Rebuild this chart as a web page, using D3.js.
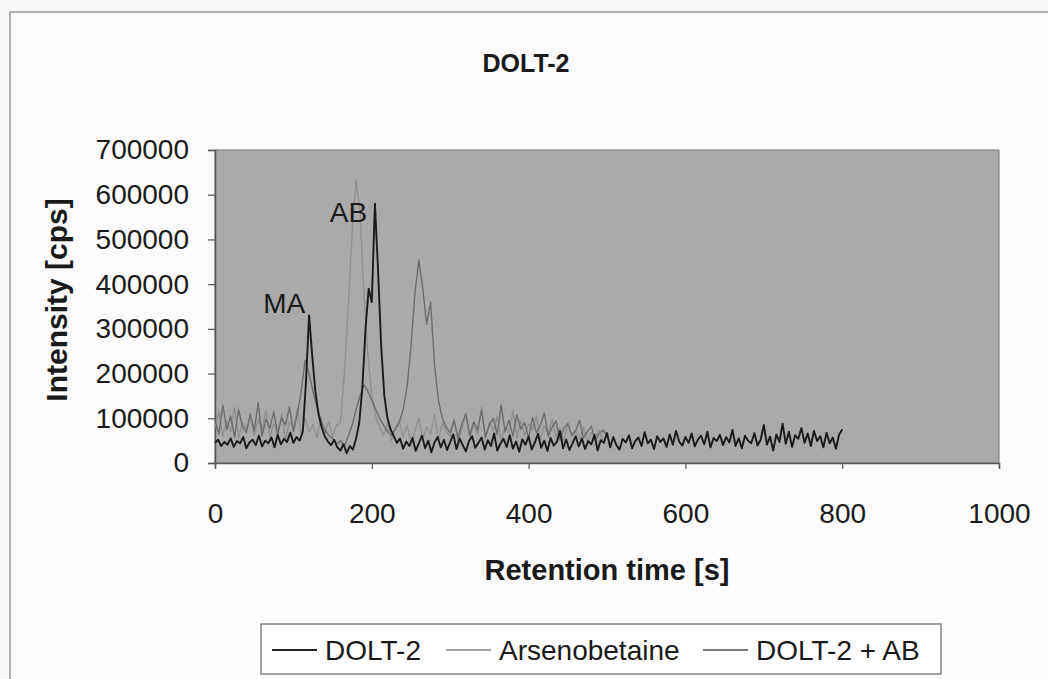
<!DOCTYPE html>
<html>
<head>
<meta charset="utf-8">
<script src="https://cdn.jsdelivr.net/npm/d3@7"></script>
<style>
  body { margin: 0; background: #f8f8f8; }
  svg { display: block; font-family: Arial, "Liberation Sans", sans-serif; }
</style>
</head>
<body>
<svg id="chart" width="1048" height="679"></svg>
<script>
// chromatogram data
const dolt2Step = 4;      // s between points, DOLT-2
const spikeStep = 5;      // s between points, Arsenobetaine / DOLT-2 + AB

const dolt2 = [
  45000, 52000, 38000, 47000, 41000, 55000, 36000, 49000, 44000, 58000,
  33000, 46000, 52000, 40000, 61000, 37000, 50000, 44000, 57000, 35000,
  63000, 42000, 54000, 47000, 68000, 45000, 58000, 50000,
  70000, 180000, 330000, 240000, 160000, 110000, 80000, 60000, 48000, 40000,
  52000, 35000, 28000, 42000, 22000, 38000, 30000, 55000, 90000, 170000,
  300000, 390000, 360000, 580000, 430000, 260000, 150000, 100000, 75000, 60000,
  45000, 55000, 32000, 48000,
  38000, 56000, 27000, 44000, 61000, 33000, 50000, 24000, 46000, 58000,
  35000, 52000, 29000, 47000, 64000, 31000, 55000, 40000, 26000, 49000,
  60000, 34000, 45000, 57000, 30000, 51000, 38000, 66000, 28000, 43000,
  54000, 36000, 62000, 32000, 48000, 25000, 53000, 41000, 59000, 30000,
  46000, 65000, 34000, 50000, 27000, 56000, 39000, 47000, 71000, 33000,
  52000, 29000, 44000, 60000, 37000, 55000, 31000, 49000, 42000, 63000,
  28000, 51000, 45000, 67000, 35000, 58000, 40000, 30000, 54000, 46000,
  62000, 33000, 49000, 57000, 38000, 69000, 44000, 52000, 31000, 60000,
  47000, 55000, 36000, 64000, 41000, 72000, 48000, 39000, 58000, 45000,
  66000, 37000, 53000, 61000, 42000, 70000, 35000, 56000, 49000, 63000,
  40000, 58000, 46000, 74000, 38000, 55000, 33000, 61000, 50000, 44000,
  67000, 39000, 52000, 85000, 41000, 59000, 28000, 64000, 47000, 88000,
  43000, 70000, 36000, 62000, 54000, 78000, 45000, 66000, 38000, 72000,
  49000, 60000, 35000, 68000, 44000, 57000, 32000, 63000, 75000
];

const arsenobetaine = [
  80000, 115000, 60000, 95000, 70000, 125000, 55000, 90000, 75000, 105000,
  62000, 98000, 72000, 118000, 58000, 88000, 67000, 110000, 52000, 93000,
  78000, 120000, 64000, 100000, 70000, 86000, 57000, 104000, 68000, 92000,
  60000, 84000,
  90000, 200000, 350000, 520000, 633000, 560000, 380000, 240000, 150000, 105000, 80000,
  62000, 88000, 50000, 78000, 95000, 58000, 84000, 46000, 72000, 100000,
  55000, 80000, 66000, 108000, 52000, 90000, 70000, 60000, 98000, 48000,
  76000, 112000, 58000, 86000, 64000, 125000, 54000, 92000, 72000, 104000,
  50000, 82000, 68000, 116000, 56000, 94000, 62000, 88000, 74000, 106000,
  52000, 84000, 66000, 98000, 58000, 78000, 48000, 90000, 60000, 72000,
  54000, 80000, 46000, 68000, 58000, 74000, 50000, 62000
];

const dolt2Ab = [
  95000, 65000, 130000, 75000, 105000, 58000, 120000, 82000, 68000, 110000,
  72000, 135000, 60000, 98000, 78000, 115000, 64000, 102000, 85000, 125000,
  70000,
  110000, 160000, 230000, 200000, 160000, 125000, 95000, 75000, 62000, 55000,
  42000, 50000, 38000, 60000, 85000, 120000, 150000, 175000, 160000, 140000,
  120000, 100000, 85000, 70000, 62000, 75000, 90000, 120000, 170000, 260000,
  380000, 454000, 390000, 310000, 360000, 220000, 140000, 100000, 80000,
  68000, 95000, 56000, 88000, 110000, 62000, 92000, 74000, 118000, 58000,
  86000, 100000, 64000, 130000, 70000, 96000, 60000, 108000, 76000, 90000,
  55000, 102000, 68000, 84000, 112000, 60000, 80000, 94000, 52000, 78000,
  88000, 62000, 72000, 96000, 56000, 70000, 82000, 50000, 66000, 74000, 60000
];

const seriesNames = ["DOLT-2", "Arsenobetaine", "DOLT-2 + AB"];
const seriesColors = ["#1a1a1a", "#909090", "#6c6c6c"];
const xTicks = [0, 200, 400, 600, 800, 1000];
const yTicks = [0, 100000, 200000, 300000, 400000, 500000, 600000, 700000];
const peakLabels = [
  { name: "MA", t: 115, v: 335000 },
  { name: "AB", t: 194, v: 539000 }
];

const svg = d3.select("#chart");

// outer frame of the scanned figure
svg.append("rect")
  .attr("x", 10).attr("y", 12)
  .attr("width", 1060).attr("height", 700)
  .attr("fill", "#fbfbfb")
  .attr("stroke", "#9a9a9a")
  .attr("stroke-width", 1.5);

const plot = { left: 215, right: 999, top: 150, bottom: 463 };

const x = d3.scaleLinear().domain([0, 1000]).range([plot.left, plot.right]);
const y = d3.scaleLinear().domain([0, 700000]).range([plot.bottom, plot.top]);

svg.append("rect")
  .attr("x", plot.left).attr("y", plot.top)
  .attr("width", plot.right - plot.left)
  .attr("height", plot.bottom - plot.top)
  .attr("fill", "#aaaaaa")
  .attr("stroke", "#777")
  .attr("stroke-width", 1);

const xAxis = svg.append("g")
  .attr("transform", `translate(0,${plot.bottom})`)
  .call(d3.axisBottom(x).tickValues(xTicks).tickSize(6).tickFormat(d3.format("d")));

const yAxis = svg.append("g")
  .attr("transform", `translate(${plot.left},0)`)
  .call(d3.axisLeft(y).tickValues(yTicks).tickSize(7).tickPadding(19).tickFormat(d3.format("d")));

[xAxis, yAxis].forEach(g => {
  g.select(".domain").attr("stroke", "#555").attr("stroke-width", 1.5);
  g.selectAll(".tick line").attr("stroke", "#555").attr("stroke-width", 1.2);
  g.selectAll(".tick text")
    .attr("fill", "#1a1a1a")
    .attr("font-size", 28)
    .attr("font-family", "Arial, 'Liberation Sans', sans-serif");
});
xAxis.selectAll(".tick text").attr("y", 60).attr("dy", 0);

const line = d3.line()
  .x(d => x(d[0]))
  .y(d => y(d[1]));

const toPoints = (vals, step) => vals.map((v, i) => [i * step, v]);

const series = [
  { name: seriesNames[1], color: seriesColors[1], pts: toPoints(arsenobetaine, spikeStep), w: 1.4 },
  { name: seriesNames[2], color: seriesColors[2], pts: toPoints(dolt2Ab, spikeStep), w: 1.4 },
  { name: seriesNames[0], color: seriesColors[0], pts: toPoints(dolt2, dolt2Step), w: 1.9 }
];

svg.append("g").selectAll("path")
  .data(series)
  .join("path")
  .attr("d", d => line(d.pts))
  .attr("fill", "none")
  .attr("stroke", d => d.color)
  .attr("stroke-width", d => d.w)
  .attr("stroke-linejoin", "round");

svg.append("g").selectAll("text")
  .data(peakLabels)
  .join("text")
  .attr("x", d => x(d.t))
  .attr("y", d => y(d.v))
  .attr("text-anchor", "end")
  .attr("font-size", 28)
  .attr("fill", "#1a1a1a")
  .text(d => d.name);

// titles
svg.append("text")
  .attr("x", 526).attr("y", 72)
  .attr("text-anchor", "middle")
  .attr("font-size", 25)
  .attr("font-weight", "bold")
  .attr("fill", "#1a1a1a")
  .text("DOLT-2");

svg.append("text")
  .attr("x", (plot.left + plot.right) / 2).attr("y", 580)
  .attr("text-anchor", "middle")
  .attr("font-size", 29)
  .attr("font-weight", "bold")
  .attr("fill", "#1a1a1a")
  .text("Retention time [s]");

svg.append("text")
  .attr("transform", "translate(67,300) rotate(-90)")
  .attr("text-anchor", "middle")
  .attr("font-size", 30)
  .attr("font-weight", "bold")
  .attr("fill", "#1a1a1a")
  .text("Intensity [cps]");

// legend
const legend = svg.append("g");
legend.append("rect")
  .attr("x", 261).attr("y", 624)
  .attr("width", 680).attr("height", 50)
  .attr("fill", "#ffffff")
  .attr("stroke", "#666")
  .attr("stroke-width", 1.2);

const legendX = [272, 446, 703];
const legendColors = ["#262626", "#a0a0a0", "#7c7c7c"];
seriesNames.forEach((name, i) => {
  legend.append("line")
    .attr("x1", legendX[i]).attr("x2", legendX[i] + 45)
    .attr("y1", 650).attr("y2", 650)
    .attr("stroke", legendColors[i])
    .attr("stroke-width", 2);
  legend.append("text")
    .attr("x", legendX[i] + 53).attr("y", 660)
    .attr("font-size", 28)
    .attr("fill", "#1a1a1a")
    .text(name);
});
</script>
</body>
</html>
